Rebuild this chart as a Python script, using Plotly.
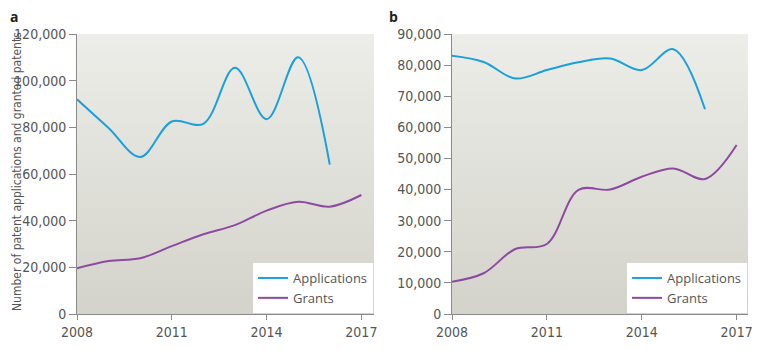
import base64
import plotly.graph_objects as go

years = [2008, 2009, 2010, 2011, 2012, 2013, 2014, 2015, 2016, 2017]

# Panel a
apps_a = [92000, 79700, 67300, 82500, 81500, 105500, 83500, 110000, 64000]
grants_a = [19600, 22700, 23900, 29100, 34200, 38100, 44300, 48100, 46000, 51000]
# Panel b
apps_b = [83000, 81000, 75700, 78400, 80900, 82100, 78400, 85100, 65800]
grants_b = [10400, 13100, 20900, 22500, 39900, 40000, 44100, 46800, 43400, 54300]

x_ticks = [2008, 2011, 2014, 2017]
y_ticks_a = [0, 20000, 40000, 60000, 80000, 100000, 120000]
y_ticks_b = [0, 10000, 20000, 30000, 40000, 50000, 60000, 70000, 80000, 90000]

BLUE = "#1aa0dc"
PURPLE = "#8e4aa0"
AXIS = "#8a8a8a"
TXT = "#555555"
FONT = "Open Sans"
NARROW = "Liberation Sans Narrow, DejaVu Sans Condensed, Open Sans"

svg = ('<svg xmlns="http://www.w3.org/2000/svg" width="100" height="100" preserveAspectRatio="none">'
       '<defs><linearGradient id="g" x1="0" y1="0" x2="0" y2="1">'
       '<stop offset="0" stop-color="#edede9"/><stop offset="1" stop-color="#d3d3cb"/>'
       '</linearGradient></defs><rect width="100" height="100" fill="url(#g)"/></svg>')
bg_src = "data:image/svg+xml;base64," + base64.b64encode(svg.encode()).decode()

fig = go.Figure()

fig.add_trace(go.Scatter(x=years[:len(apps_a)], y=apps_a, name="Applications", mode="lines",
                         line=dict(color=BLUE, width=2, shape="spline"), xaxis="x", yaxis="y",
                         legend="legend"))
fig.add_trace(go.Scatter(x=years, y=grants_a, name="Grants", mode="lines",
                         line=dict(color=PURPLE, width=2, shape="spline"), xaxis="x", yaxis="y",
                         legend="legend"))
fig.add_trace(go.Scatter(x=years[:len(apps_b)], y=apps_b, name="Applications", mode="lines",
                         line=dict(color=BLUE, width=2, shape="spline"), xaxis="x2", yaxis="y2",
                         legend="legend2"))
fig.add_trace(go.Scatter(x=years, y=grants_b, name="Grants", mode="lines",
                         line=dict(color=PURPLE, width=2, shape="spline"), xaxis="x2", yaxis="y2",
                         legend="legend2"))

W, H = 767, 350
OFF = 8  # page body margin


def px(v):
    return (v - OFF) / W


def py(v):
    return 1 - (v - OFF) / H


ydom = [py(314), py(34)]

xcommon = dict(tickvals=x_ticks, ticks="outside", ticklen=5, tickcolor=AXIS, showline=True,
               linecolor=AXIS, linewidth=1, showgrid=False, zeroline=False, automargin=False,
               tickfont=dict(family=NARROW, size=14, color=TXT))
ycommon = dict(ticks="outside", ticklen=7, tickcolor=AXIS, showline=True, linecolor=AXIS,
               linewidth=1, showgrid=False, zeroline=False, tickformat=",", automargin=False,
               tickfont=dict(family=NARROW, size=14, color=TXT))

legcommon = dict(bgcolor="white", borderwidth=0, font=dict(family=FONT, size=13, color=TXT),
                 xanchor="left", yanchor="top", tracegroupgap=0, itemwidth=30)

fig.update_layout(
    width=W, height=H,
    margin=dict(l=0, r=0, t=0, b=0, autoexpand=False),
    paper_bgcolor="white",
    plot_bgcolor="rgba(0,0,0,0)",
    xaxis=dict(domain=[px(77), px(374)], range=[2008, 2017.4], anchor="y", **xcommon),
    yaxis=dict(domain=ydom, range=[0, 120000], tickvals=y_ticks_a, anchor="x", **ycommon),
    xaxis2=dict(domain=[px(452), px(748)], range=[2008, 2017.36], anchor="y2", **xcommon),
    yaxis2=dict(domain=ydom, range=[0, 90000], tickvals=y_ticks_b, anchor="x2", **ycommon),
    legend=dict(x=px(253), y=py(263), **legcommon),
    legend2=dict(x=px(627), y=py(263), **legcommon),
    images=[
        dict(source=bg_src, xref="x domain", yref="y domain", x=0, y=1, sizex=1, sizey=1,
             sizing="stretch", layer="below", xanchor="left", yanchor="top"),
        dict(source=bg_src, xref="x2 domain", yref="y2 domain", x=0, y=1, sizex=1, sizey=1,
             sizing="stretch", layer="below", xanchor="left", yanchor="top"),
    ],
    annotations=[
        dict(text="<b>a</b>", x=px(8), y=py(17), xref="paper", yref="paper",
             xanchor="left", yanchor="middle", showarrow=False,
             font=dict(family=FONT, size=14, color="#222")),
        dict(text="<b>b</b>", x=px(387), y=py(17), xref="paper", yref="paper",
             xanchor="left", yanchor="middle", showarrow=False,
             font=dict(family=FONT, size=14, color="#222")),
        dict(text="Number of patent applications and granted patents", x=px(8),
             y=py(172), xref="paper", yref="paper", xanchor="left", yanchor="middle",
             textangle=-90, showarrow=False, font=dict(family=NARROW, size=12, color=TXT)),
    ],
)

fig.write_html("out.html")
